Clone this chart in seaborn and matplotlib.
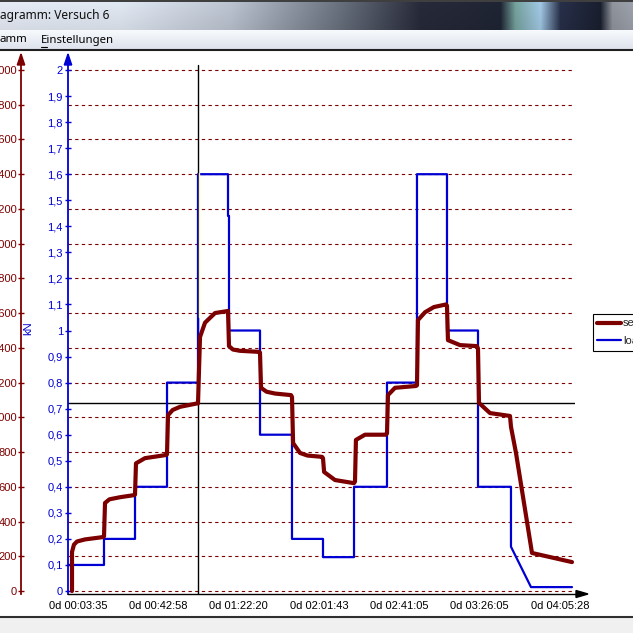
import numpy as np
import matplotlib
matplotlib.use("Agg")
import matplotlib.pyplot as plt
import seaborn as sns
import pandas as pd
from matplotlib.patches import Polygon, Rectangle
from matplotlib.lines import Line2D

# ---------------- data (time in minutes, force in kN) ----------------
tick_time = [3.583 + k * 19.6875 for k in range(13)]
tick_labels = ['0d 00:03:35', '', '0d 00:42:58', '', '0d 01:22:20', '',
               '0d 02:01:43', '', '0d 02:41:05', '', '0d 03:26:05', '',
               '0d 04:05:28']

load_time = [-1.32, 16.32, 16.32, 31.52, 31.52, 47.21, 47.21, 62.39, 62.39,
             77.10, 77.10, 77.59, 77.59, 92.79, 92.79, 108.46, 108.46, 123.66,
             123.66, 138.86, 138.86, 155.02, 155.02, 169.72, 169.72, 184.43,
             184.43, 199.63, 199.63, 215.79, 215.79, 225.60, 245.70]
load_kn = [0.10, 0.10, 0.20, 0.20, 0.40, 0.40, 0.80, 0.80, 1.60,
           1.60, 1.44, 1.44, 1.00, 1.00, 0.60, 0.60, 0.20, 0.20,
           0.13, 0.13, 0.40, 0.40, 0.80, 0.80, 1.60, 1.60,
           1.00, 1.00, 0.40, 0.40, 0.17, 0.015, 0.015]

setpoint_time = [0.64, 0.64, 1.60, 3.09, 7.00, 15.84,
                 16.33, 16.82, 19.00, 24.17, 31.03,
                 31.52, 32.00, 36.42, 46.71,
                 47.20, 47.70, 50.00, 53.58, 61.91,
                 62.40, 63.38, 65.83, 70.73, 77.10,
                 77.59, 79.50, 82.98, 92.29,
                 92.78, 93.30, 96.00, 100.14, 107.98,
                 108.47, 109.00, 112.39, 116.00, 123.17,
                 123.66, 124.20, 129.54, 138.85,
                 139.34, 139.80, 144.24, 154.54,
                 155.03, 155.50, 158.95, 169.24,
                 169.73, 170.20, 173.65, 178.00, 183.94,
                 184.43, 184.90, 190.80, 199.14,
                 199.63, 200.12, 205.51, 215.31,
                 215.80, 218.25, 226.09, 245.70]
setpoint_kn = [0.00, 0.15, 0.178, 0.19, 0.198, 0.207,
               0.21, 0.338, 0.352, 0.36, 0.368,
               0.37, 0.49, 0.51, 0.522,
               0.525, 0.675, 0.695, 0.707, 0.72,
               0.72, 0.975, 1.03, 1.067, 1.075,
               0.94, 0.927, 0.922, 0.918,
               0.915, 0.78, 0.765, 0.758, 0.752,
               0.745, 0.568, 0.53, 0.52, 0.515,
               0.51, 0.457, 0.426, 0.414,
               0.42, 0.58, 0.60, 0.60,
               0.605, 0.752, 0.78, 0.787,
               0.79, 1.04, 1.07, 1.09, 1.10,
               1.095, 0.963, 0.944, 0.94,
               0.93, 0.722, 0.683, 0.672,
               0.63, 0.53, 0.146, 0.111]

yellow_time = [62.89, 62.89]
yellow_kn = [1.605, 1.052]

cursor_time = 62.40
cursor_kn = 0.722

kn_ticks = [round(0.1 * i, 1) for i in range(21)]
n_ticks = list(range(0, 3001, 200))

# ---------------- style ----------------
sns.set_theme(style="white")
plt.rcParams['font.family'] = ['Liberation Sans', 'DejaVu Sans']

MAROON = '#7d0000'
BLUE = '#0000d4'

W = H = 633
fig = plt.figure(figsize=(6.33, 6.33), dpi=100, facecolor='white')


def fx(px):
    return px / W


def fy(py):
    return 1 - py / H


# ---------------- window chrome ----------------
tb = fig.add_axes([0, fy(30), 1, 30 / H])
tb.axis('off')
kx = [0, 120, 230, 340, 420, 500, 515, 540, 560, 600, 612, 633]
kr = [0.88, 0.86, 0.72, 0.40, 0.15, 0.12, 0.45, 0.62, 0.15, 0.10, 0.55, 0.60]
kg = [0.90, 0.89, 0.75, 0.43, 0.16, 0.14, 0.62, 0.77, 0.18, 0.12, 0.57, 0.62]
kb = [0.94, 0.93, 0.80, 0.48, 0.22, 0.20, 0.60, 0.88, 0.28, 0.18, 0.60, 0.66]
cols = np.arange(633)
base = np.stack([np.interp(cols, kx, kr), np.interp(cols, kx, kg), np.interp(cols, kx, kb)], axis=-1)
shade = np.linspace(1.03, 0.95, 30)[:, None, None]
img = np.clip(base[None, :, :] * shade, 0, 1)
img[0:2, :, :] = 0.25
tb.imshow(img, aspect='auto', extent=[0, 633, 30, 0])
tb.set_xlim(0, 633)
tb.set_ylim(30, 0)

mb = fig.add_axes([0, fy(49), 1, 19 / H])
mb.axis('off')
grad = np.linspace(0, 1, 19)[:, None]
mimg = np.stack([0.97 - 0.10 * grad, 0.98 - 0.09 * grad, 0.99 - 0.06 * grad], axis=-1) * np.ones((1, 633, 1))
mb.imshow(mimg, aspect='auto', extent=[0, 633, 19, 0])
mb.set_xlim(0, 633)
mb.set_ylim(19, 0)

fig.add_artist(Line2D([0, 1], [fy(50), fy(50)], color='#202020', lw=1.5, transform=fig.transFigure))
fig.add_artist(Rectangle((0, 0), 1, fy(617), color='#f0f0f0', transform=fig.transFigure, zorder=0))
fig.add_artist(Line2D([0, 1], [fy(617), fy(617)], color='#303030', lw=1.5, transform=fig.transFigure))

fig.text(fx(0), fy(16), 'agramm: Versuch 6', ha='left', va='center', fontsize=8.6,
         family=['Noto Sans', 'DejaVu Sans'], color='#101010')
fig.text(fx(0), fy(40), 'amm', ha='left', va='center', fontsize=8.2,
         family=['Noto Sans', 'DejaVu Sans'], color='black')
fig.text(fx(41), fy(40), 'Einstellungen', ha='left', va='center', fontsize=8.2,
         family=['Noto Sans', 'DejaVu Sans'], color='black')
fig.add_artist(Line2D([fx(41), fx(47)], [fy(46.5), fy(46.5)], color='black', lw=0.8, transform=fig.transFigure))

# ---------------- chart ----------------
rect = [fx(68), fy(594), fx(575) - fx(68), (594 - 55) / H]
ax = fig.add_axes(rect)
ax2 = ax.twinx()

ylo, yhi = -0.0115, 2.0576
ax.set_xlim(-1.32, 247.17)
ax.set_ylim(ylo, yhi)
ax2.set_ylim(ylo * 1500, yhi * 1500)

ax.set_zorder(ax2.get_zorder() + 1)
ax.patch.set_visible(False)

# red (N) axis on the far left
ax2.yaxis.tick_left()
ax2.spines['left'].set_position(('outward', 47 * 0.72))
for s in ['top', 'right', 'bottom']:
    ax2.spines[s].set_visible(False)
ax2.spines['left'].set_color(MAROON)
ax2.spines['left'].set_linewidth(1.3)
ax2.set_yticks(n_ticks)
ax2.set_yticklabels([str(v) for v in n_ticks])
ax2.tick_params(axis='y', direction='inout', length=4.3, width=1, color=MAROON,
                labelcolor=MAROON, labelsize=8, pad=0.8, left=True, right=False)
ax2.grid(axis='y', color=MAROON, linestyle=(0, (3, 3)), linewidth=0.8)
ax2.grid(axis='x', visible=False)

# blue (kN) axis
for s in ['top', 'right']:
    ax.spines[s].set_visible(False)
ax.spines['left'].set_color(BLUE)
ax.spines['left'].set_linewidth(1.3)
ax.spines['bottom'].set_color('black')
ax.spines['bottom'].set_linewidth(1.0)
ax.set_yticks(kn_ticks)
ax.set_yticklabels([('%g' % v).replace('.', ',') for v in kn_ticks])
ax.tick_params(axis='y', direction='inout', length=4.3, width=1, color=BLUE,
               labelcolor=BLUE, labelsize=8, pad=1.5)
ax.set_xticks(tick_time)
ax.set_xticklabels(tick_labels)
ax.tick_params(axis='x', direction='inout', length=4.3, width=1, color='black',
               labelcolor='black', labelsize=8, pad=3)
ax.grid(False)

# cursor lines
ax.axhline(cursor_kn, color='black', lw=1, zorder=1)
ax.axvline(cursor_time, ymin=0, ymax=0.981, color='black', lw=1, zorder=1)

# series
sp_df = pd.DataFrame({'time': setpoint_time, 'kN': setpoint_kn})
ld_df = pd.DataFrame({'time': load_time, 'kN': load_kn})
sns.lineplot(data=ld_df, x='time', y='kN', sort=False, estimator=None, ax=ax,
             color=BLUE, lw=1.6, zorder=3, legend=False)
ax.plot(yellow_time, yellow_kn, color='#ffff70', lw=1.0, zorder=3)
sns.lineplot(data=sp_df, x='time', y='kN', sort=False, estimator=None, ax=ax,
             color=MAROON, lw=3.0, zorder=4, legend=False)
ax.set_xlabel('')
ax.set_ylabel('')

# axis arrows
fig.add_artist(Polygon([[fx(68), fy(54)], [fx(64.3), fy(65)], [fx(71.7), fy(65)]],
                       closed=True, transform=fig.transFigure, color=BLUE))
fig.add_artist(Polygon([[fx(21), fy(54)], [fx(17.3), fy(65)], [fx(24.7), fy(65)]],
                       closed=True, transform=fig.transFigure, color=MAROON))
fig.add_artist(Polygon([[fx(588), fy(594)], [fx(576), fy(590.5)], [fx(576), fy(597.5)]],
                       closed=True, transform=fig.transFigure, color='black'))

fig.text(fx(28), fy(328), 'kN', rotation=90, ha='center', va='center', color=BLUE, fontsize=8)

handles = [Line2D([], [], color=MAROON, lw=3.0), Line2D([], [], color=BLUE, lw=1.6)]
leg = fig.legend(handles, ['setpoint', 'load'], loc='upper left',
                 bbox_to_anchor=(fx(593), fy(314)), bbox_transform=fig.transFigure,
                 frameon=True, fancybox=False, edgecolor='black', framealpha=1,
                 fontsize=8, handlelength=2.1, borderpad=0.4, labelspacing=0.7,
                 handletextpad=0.2, borderaxespad=0)
leg.get_frame().set_linewidth(0.8)

fig.savefig('out.png', dpi=100, facecolor='white')
